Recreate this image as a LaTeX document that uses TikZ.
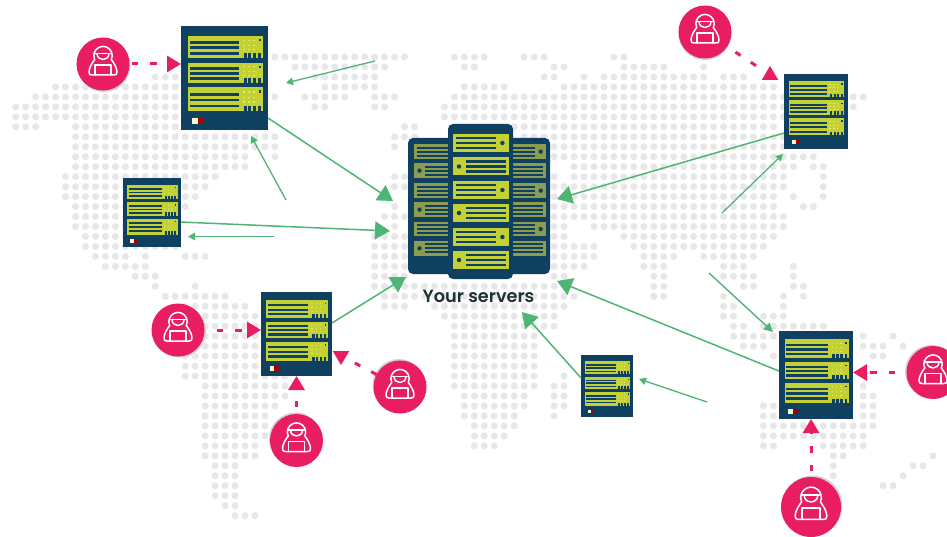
\documentclass[tikz,border=0pt]{standalone}
\usepackage{fontspec}
\newfontfamily\labfont{Poppins}[UprightFont=* SemiBold]
\usetikzlibrary{arrows.meta,calc}
\definecolor{srvdark}{HTML}{0F405F}
\definecolor{srvlime}{HTML}{C3D134}
\definecolor{srvpale}{HTML}{E4E86E}
\definecolor{srvolive}{HTML}{8C9C50}
\definecolor{hackpink}{HTML}{E81D62}
\definecolor{linkgreen}{HTML}{4FB575}
\definecolor{mapdot}{HTML}{E7E7EA}
\definecolor{labeltext}{HTML}{1F3233}
\tikzset{
  bigarrow/.style={draw=linkgreen,line width=1.5pt,-{Triangle[length=15pt,width=18pt,fill=linkgreen]}},
  smallarrow/.style={draw=linkgreen,line width=1.3pt,-{Triangle[length=7pt,width=7.5pt,fill=linkgreen]}},
  midarrow/.style={draw=linkgreen,line width=1.4pt,-{Triangle[length=9pt,width=9pt,fill=linkgreen]}},
  attack/.style={draw=hackpink,line width=3pt,dash pattern=on 6.5pt off 12pt,-{Triangle[length=14pt,width=16pt,fill=hackpink]}},
  attackplain/.style={draw=hackpink,line width=3pt,dash pattern=on 6.2pt off 12.2pt},
  boxnode/.style={rectangle,fill=srvdark,inner sep=0pt,outer sep=0pt},
  tower/.style={rectangle,rounded corners=5pt,fill=srvdark,inner sep=0pt,outer sep=0pt},
  hacknode/.style={circle,fill=hackpink,inner sep=0pt,outer sep=0pt},
  hackline/.style={draw=white,line width=1.5pt,line join=round,line cap=round}
}
% server: name, left, top, width, height
\newcommand{\srvbay}[2]{%
  \fill[srvlime] (0.076,#1) rectangle (0.943,#2);
  \foreach \f in {0.29,0.53,0.78}{
    \fill[srvdark] (0.1,{#1+(#2-#1)*\f-0.013}) rectangle (0.665,{#1+(#2-#1)*\f+0.013});
  }
  \foreach \f in {0.2,0.42,0.62}{
    \foreach \g in {0.71,0.77,0.83}{
      \fill[srvpale] (\g,{#1+(#2-#1)*\f-0.006}) rectangle ({\g+0.02},{#1+(#2-#1)*\f+0.006});
    }
  }
  \fill[srvdark] (0.895,{#1+0.03}) rectangle (0.92,{#1+0.05});
  \foreach \g in {0.72,0.775,0.83,0.885}{
    \fill[srvdark] (\g,{#2-0.05}) rectangle ({\g+0.034},{#2+0.002});
  }
}
\newcommand{\srvbox}[5]{%
  \node[boxnode,minimum width=#4pt,minimum height=#5pt] (#1) at ({#2+#4/2},{#3+#5/2}) {};
  \begin{scope}[shift={(#2,#3)},x=#4pt,y=-#5pt]
    \srvbay{0.095}{0.311}
    \srvbay{0.352}{0.549}
    \srvbay{0.59}{0.819}
    \fill[srvpale!30!white] (0.125,0.885) rectangle (0.19,0.94);
    \fill[red!65!black] (0.19,0.885) rectangle (0.255,0.94);
  \end{scope}
}
% bay in the central cluster: left, top, width, height, colour, stripe from, stripe to, dot x (negative: none)
\newcommand{\cbay}[8]{%
  \begin{scope}[shift={(#1,#2)}]
    \fill[#5] (0,0) rectangle (#3,#4);
    \foreach \f in {0.22,0.5,0.78}{
      \fill[srvdark] (#6,{#4*\f-#4*0.07}) rectangle (#7,{#4*\f+#4*0.07});
    }
    \ifdim #8pt>0pt
      \fill[srvdark] (#8,{#4/2}) circle (2.2);
    \fi
  \end{scope}
}
% hacker: name, x, y, radius, shadow dx, shadow dy
\newcommand{\hackerfig}[6]{%
  \fill[black!18] ({#2+#5},{#3+#6}) circle (#4);
  \node[hacknode,minimum size={2*#4*1pt}] (#1) at (#2,#3) {};
  \begin{scope}[shift={(#2,#3)},scale={#4/26.5}]
    \draw[hackline] (-8.3,-4.5) arc[start angle=155,end angle=385,radius=9.2];
    \draw[hackline] (-8.6,-10.5) -- (8.6,-10.5);
    \draw[hackline] (-6,-10.5) .. controls (-6,-2.5) and (6,-2.5) .. (6,-10.5);
    \draw[hackline] (-8.3,-4.5) .. controls (-11,-1) and (-14,4) .. (-14,8) .. controls (-14,10.5) and (-13,11) .. (-11,11) -- (11,11) .. controls (13,11) and (14,10.5) .. (14,8) .. controls (14,4) and (11,-1) .. (8.3,-4.5);
    \draw[hackline] (-8,11) -- (-8,1) -- (8,1) -- (8,11);
  \end{scope}
}
\begin{document}
\begin{tikzpicture}[x=1pt,y=-1pt]
\useasboundingbox (0,0) rectangle (947,537);
\fill[white] (0,0) rectangle (947,537);
% map dots
\foreach \r/\a/\b in {
0/26/39,0/44/47,0/51/53,0/60/61,
1/28/37,1/45/46,1/54/55,1/61/65,1/69/69,
2/14/16,2/30/36,2/53/54,2/57/57,2/59/69,2/71/73,
3/4/16,3/31/36,3/45/49,3/55/76,
4/2/16,4/26/26,4/29/33,4/36/38,4/44/85,
5/0/16,5/30/31,5/36/37,5/43/84,
6/0/16,6/43/82,
7/0/2,7/6/24,7/39/40,7/50/76,
8/6/26,8/38/40,8/51/77,
9/6/26,9/38/38,9/54/77,
10/6/23,10/26/26,10/54/80,
11/6/23,11/56/78,11/80/81,
12/5/20,12/38/39,12/54/54,12/56/77,12/81/81,
13/5/19,13/38/39,13/54/77,13/81/81,
14/5/18,14/54/76,14/78/78,14/81/81,
15/6/17,15/38/38,15/54/76,15/79/80,
16/6/16,16/37/39,16/54/77,
17/6/16,17/38/38,17/54/55,17/58/77,
18/7/16,18/36/39,18/54/55,18/61/76,
19/7/16,19/36/39,19/54/58,19/62/75,
20/8/11,20/13/13,20/17/19,20/36/39,20/54/58,20/63/66,20/69/74,
21/9/13,21/36/39,21/54/57,21/63/65,21/71/73,21/78/78,
22/12/14,22/36/39,22/54/55,22/64/65,22/71/74,22/78/78,
23/14/14,23/18/18,23/36/54,23/64/65,23/73/74,23/78/79,
24/15/21,24/37/56,24/64/65,24/71/71,24/77/77,24/79/79,
25/17/23,25/37/39,25/42/55,25/71/72,25/77/77,
26/16/24,26/43/54,26/71/72,26/75/77,
27/16/24,27/44/54,27/72/73,27/75/81,
28/16/24,28/44/52,28/72/76,28/85/85,28/88/88,
29/16/27,29/44/52,29/73/75,29/85/87,29/89/89,
30/17/27,30/44/52,30/76/76,30/86/87,
31/17/27,31/44/52,
32/17/27,32/44/52,32/55/55,
33/19/27,33/44/52,33/54/55,33/85/85,
34/19/27,34/45/51,34/54/55,34/85/86,
35/19/26,35/45/51,35/54/55,35/75/76,35/85/86,
36/19/25,36/45/50,36/54/54,36/75/76,36/85/86,
37/19/25,37/46/50,37/75/86,
38/19/25,38/46/49,38/75/85,
39/19/24,39/46/48,39/75/76,39/81/85,
40/19/24,40/82/83,40/92/92,
41/20/22,41/82/82,41/90/91,
42/20/22,42/82/82,42/89/89,
43/20/22,43/87/88,
44/20/22,
45/21/22,
46/22/24}{
  \foreach \c in {\a,...,\b}{
    \fill[mapdot] ({15.7+9.97*\c},{57+9.97*\r}) circle (3.5);
  }
}
% central cluster
\node[tower,minimum width=60pt,minimum height=136pt] (cl) at (438,206) {};
\node[tower,minimum width=60pt,minimum height=136pt] (cr) at (520,206) {};
\foreach \t/\k in {144.3/1,163.3/2,183.3/1,202.3/2,221.7/1,241/2}{
  \ifnum\k=1
    \cbay{414}{\t}{34}{14.7}{srvolive}{2.7}{34}{-1}
    \cbay{513}{\t}{33}{14.7}{srvolive}{0}{22}{27.7}
  \else
    \cbay{414}{\t}{34}{14.7}{srvolive}{11}{34}{5.5}
    \cbay{513}{\t}{33}{14.7}{srvolive}{0}{30}{-1}
  \fi
}
\node[tower,minimum width=65pt,minimum height=155pt] (cc) at (480.5,201.5) {};
\foreach \t/\k in {134/1,157.5/2,181/1,204/2,228/1,251/2}{
  \ifnum\k=1
    \cbay{453}{\t}{56}{18}{srvlime}{2.7}{43.3}{49.4}
  \else
    \cbay{453}{\t}{56}{18}{srvlime}{12.5}{53.3}{6}
  \fi
}
\node[font=\labfont\fontsize{17.7}{20}\selectfont,text=labeltext,inner sep=0pt] (lbl) at (478.5,296) {Your servers};
% servers
\srvbox{s1}{181}{26}{87}{104}
\srvbox{s2}{123}{178}{58}{69}
\srvbox{s3}{261}{292}{71}{84}
\srvbox{s4}{784}{74}{64}{75}
\srvbox{s5}{779}{331}{74}{88}
\srvbox{s6}{581}{355}{52}{62}
% hackers
\hackerfig{h1}{103}{64}{26.5}{1}{1.5}
\hackerfig{h2}{705}{32}{26.5}{0}{1.5}
\hackerfig{h3}{178}{330}{26.5}{1.5}{1}
\hackerfig{h4}{296.5}{440.5}{26.5}{-1}{-1.5}
\hackerfig{h5}{400}{387}{26.5}{-1}{-1.5}
\hackerfig{h6}{933}{372.5}{26.5}{-1.5}{-1}
\hackerfig{h7}{811}{507}{30}{1.5}{-1.5}
% named free ends
\coordinate (t1) at (393,201);
\coordinate (t2) at (390,231);
\coordinate (t3) at (406,277);
\coordinate (t4) at (557,199);
\coordinate (t5) at (557,281);
\coordinate (t6) at (522,312);
\coordinate (f1) at (375,61);  \coordinate (e1) at (286,83);
\coordinate (f2) at (286,200); \coordinate (e2) at (251,136);
\coordinate (f3) at (274,236.5); \coordinate (e3) at (188,236.5);
\coordinate (f4) at (722,213); \coordinate (e4) at (783,154);
\coordinate (f5) at (709,273); \coordinate (e5) at (773,332);
\coordinate (f6) at (707,402); \coordinate (e6) at (639,379);
% green links
\draw[bigarrow] ($(s1.north east)!0.885!(s1.south east)$) -- (t1);
\draw[bigarrow] ($(s2.north east)!0.638!(s2.south east)$) -- (t2);
\draw[bigarrow] ($(s3.north east)!0.369!(s3.south east)$) -- (t3);
\draw[bigarrow] ($(s4.north west)!0.787!(s4.south west)$) -- (t4);
\draw[bigarrow] ($(s5.north west)!0.455!(s5.south west)$) -- (t5);
\draw[bigarrow] ($(s6.north west)!0.37!(s6.south west)$) -- (t6);
\draw[smallarrow] (f1) -- (e1);
\draw[smallarrow] (f2) -- (e2);
\draw[smallarrow] (f3) -- (e3);
\draw[smallarrow] (f4) -- (e4);
\draw[midarrow] (f5) -- (e5);
\draw[smallarrow] (f6) -- (e6);
% attacks
\draw[attack,shorten <=2.2pt] (h1.east) -- (s1.west |- h1);
\draw[attack,shorten <=12.2pt] (h3.east) -- (s3.west |- h3);
\draw[attack,shorten <=7pt] (h4.north) -- (h4.north |- s3.south);
\draw[attack,shorten <=11.5pt] (h6.west) -- (s5.east |- h6);
\draw[attack,shorten <=6pt] (h7.north) -- (h7.north |- s5.south);
% attacks whose triangle stands upright
\coordinate (a2) at (770,66);
\coordinate (d2) at (756.5,66);
\coordinate (a5) at (341,365);
\coordinate (d5) at (354.3,362.7);
\draw[attackplain,shorten <=10pt] (h2) -- (d2);
\fill[hackpink] (a2) -- ++(8.3,14) -- ++(-16.6,0) -- cycle;
\draw[attackplain] (h5) -- (d5);
\fill[hackpink] (a5) -- ++(8.3,-14) -- ++(-16.6,0) -- cycle;
\end{tikzpicture}
\end{document}
